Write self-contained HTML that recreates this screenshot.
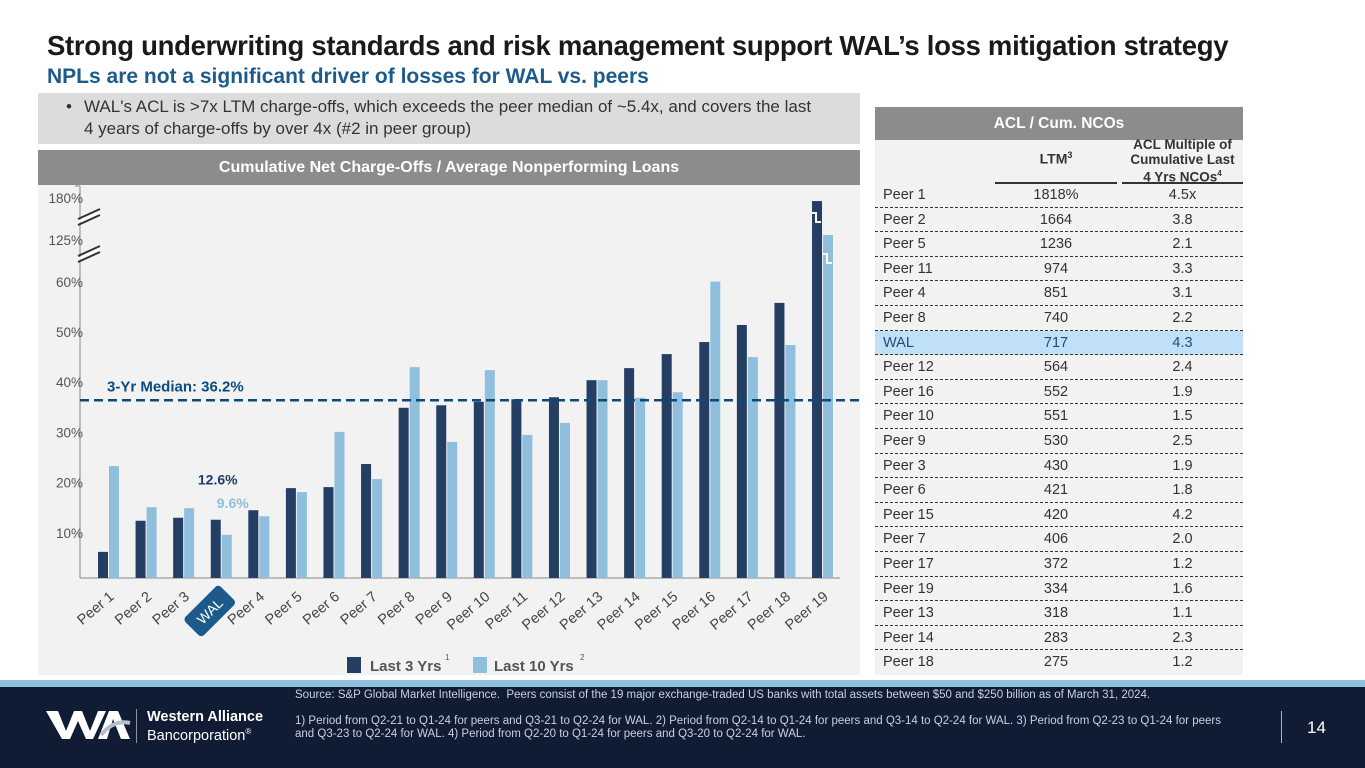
<!DOCTYPE html>
<html><head><meta charset="utf-8">
<style>
*{margin:0;padding:0;box-sizing:border-box}
body{width:1365px;height:768px;position:relative;background:#fff;font-family:"Liberation Sans",sans-serif;overflow:hidden}
.abs{position:absolute}
#title{left:47px;top:30px;font-size:27.5px;font-weight:bold;color:#1a1a1a;letter-spacing:-0.3px;white-space:nowrap}
#subtitle{left:47px;top:65px;font-size:21px;font-weight:bold;color:#1d5b8c;white-space:nowrap}
#bullet{left:38px;top:93px;width:822px;height:51px;background:#dcdcdc;font-size:17px;color:#333;padding:3px 45px 0 46px;line-height:22px}
#bullet span.dot{position:absolute;left:28px;top:3px}
#chart-header{left:38px;top:150px;width:822px;height:35px;background:#8c8c8c;color:#fff;font-size:16px;font-weight:bold;text-align:center;line-height:35px}
#chart-bg{left:38px;top:185px;width:822px;height:490px;background:#f2f2f2}
#table{left:875px;top:107px;width:368px;height:568px;background:#f2f2f2}
#thead{left:875px;top:107px;width:368px;height:33px;background:#8c8c8c;color:#fff;font-size:15.5px;font-weight:bold;text-align:center;line-height:33px}
.row{position:absolute;left:875px;width:368px;height:24.6px;font-size:14.5px;color:#333;border-bottom:1.5px dashed #333;line-height:24px}
.row .n{position:absolute;left:8px}
.row .a{position:absolute;left:995px;width:122px;text-align:center;margin-left:-875px}
.row .b{position:absolute;left:1122px;width:121px;text-align:center;margin-left:-875px}
#footer-strip{left:0;top:680px;width:1365px;height:7px;background:#8fbfdc}
#footer{left:0;top:687px;width:1365px;height:81px;background:#101c33}
.ft{color:#c9d1dc;font-size:11.5px;line-height:13px}
</style></head><body>
<div id="title" class="abs">Strong underwriting standards and risk management support WAL’s loss mitigation strategy</div>
<div id="subtitle" class="abs">NPLs are not a significant driver of losses for WAL vs. peers</div>
<div id="bullet" class="abs"><span class="dot">•</span>WAL's ACL is &gt;7x LTM charge-offs, which exceeds the peer median of ~5.4x, and covers the last 4 years of charge-offs by over 4x (#2 in peer group)</div>
<div id="chart-header" class="abs">Cumulative Net Charge-Offs / Average Nonperforming Loans</div>
<div id="chart-bg" class="abs"></div>
<svg class="abs" style="left:0;top:0" width="870" height="680" id="chart"></svg>

<div id="table" class="abs"></div>
<div id="thead" class="abs">ACL / Cum. NCOs</div>
<div class="abs" style="left:995px;top:150px;width:122px;text-align:center;font-size:14px;font-weight:bold;color:#333">LTM<sup style="font-size:9px">3</sup></div>
<div class="abs" style="left:1117px;top:138px;width:131px;text-align:center;font-size:13.5px;font-weight:bold;color:#333;line-height:14.5px">ACL Multiple of<br>Cumulative Last<br>4 Yrs NCOs<sup style="font-size:8px">4</sup></div>
<div class="abs" style="left:995px;top:182px;width:122px;height:2px;background:#333"></div>
<div class="abs" style="left:1122px;top:182px;width:121px;height:2px;background:#333"></div>
<div id="rows"></div>

<div id="footer-strip" class="abs"></div>
<div id="footer" class="abs">
  <svg class="abs" style="left:46px;top:22px" width="85" height="32">
    <polygon points="0,2 12,2 20,22 28,2 36,2 44,22 52,2 60,2 47,30 40,30 32,12 24,30 16,30" fill="#fff"/>
    <polygon points="52,30 63,2 72,2 84,30 75,30 67,10 61,30" fill="#fff"/>
    <path d="M55,26 Q68,10 84,14" stroke="#b9bec7" stroke-width="4" fill="none"/>
  </svg>
  <div class="abs" style="left:136px;top:22px;width:1px;height:34px;background:#8a93a3"></div>
  <div class="abs" style="left:147px;top:22px;color:#fff;font-size:14.5px;font-weight:bold">Western Alliance</div>
  <div class="abs" style="left:147px;top:40px;color:#fff;font-size:14.5px">Bancorporation<sup style="font-size:8px">®</sup></div>
  <div class="abs ft" style="left:295px;top:2px;width:980px">Source: S&amp;P Global Market Intelligence.&nbsp; Peers consist of the 19 major exchange-traded US banks with total assets between $50 and $250 billion as of March 31, 2024.</div>
  <div class="abs ft" style="left:295px;top:28px;width:935px">1) Period from Q2-21 to Q1-24 for peers and Q3-21 to Q2-24 for WAL. 2) Period from Q2-14 to Q1-24 for peers and Q3-14 to Q2-24 for WAL. 3) Period from Q2-23 to Q1-24 for peers and Q3-23 to Q2-24 for WAL. 4) Period from Q2-20 to Q1-24 for peers and Q3-20 to Q2-24 for WAL.</div>
  <div class="abs" style="left:1281px;top:24px;width:1px;height:32px;background:#8fbfdc"></div>
  <div class="abs" style="left:1307px;top:31px;color:#fff;font-size:17px">14</div>
</div>

<script>
const categories=["Peer 1","Peer 2","Peer 3","WAL","Peer 4","Peer 5","Peer 6","Peer 7","Peer 8","Peer 9","Peer 10","Peer 11","Peer 12","Peer 13","Peer 14","Peer 15","Peer 16","Peer 17","Peer 18","Peer 19"];
const last3=[6.2,12.4,13.0,12.6,14.5,18.9,19.1,23.7,34.9,35.4,36.1,36.6,37.0,40.4,42.8,45.6,48.0,51.4,55.8,176];
const last10=[23.3,15.1,14.9,9.6,13.3,18.1,30.1,20.7,43.0,28.1,42.4,29.5,31.9,40.4,36.9,38.0,60.6,45.0,47.4,131.5];
const tickVals=[10,20,30,40,50,60,125,180];
const tickLabels=["10%","20%","30%","40%","50%","60%","125%","180%"];
const median=36.2;
const tNames=["Peer 1","Peer 2","Peer 5","Peer 11","Peer 4","Peer 8","WAL","Peer 12","Peer 16","Peer 10","Peer 9","Peer 3","Peer 6","Peer 15","Peer 7","Peer 17","Peer 19","Peer 13","Peer 14","Peer 18"];
const tLtm=["1818%","1664","1236","974","851","740","717","564","552","551","530","430","421","420","406","372","334","318","283","275"];
const tMult=["4.5x","3.8","2.1","3.3","3.1","2.2","4.3","2.4","1.9","1.5","2.5","1.9","1.8","4.2","2.0","1.2","1.6","1.1","2.3","1.2"];

const NS="http://www.w3.org/2000/svg";
const svg=document.getElementById('chart');
function y(v){ if(v<=60) return 583-v*5.02; if(v<=125) return 282-(v-60)*42/65; return 240-(v-125)*42/55; }
function x(i){ return 98+i*37.58; }
function mk(t,a,txt){const e=document.createElementNS(NS,t);for(const k in a)e.setAttribute(k,a[k]);if(txt!==undefined)e.textContent=txt;svg.appendChild(e);return e;}
const base=578;
let ax=mk('line',{x1:80,y1:186,x2:80,y2:base,stroke:'#888','stroke-width':1});

let bx=mk('line',{x1:80,y1:base,x2:840,y2:base,stroke:'#888','stroke-width':1});

mk('line',{x1:75,y1:186,x2:80,y2:186,stroke:'#888'});
[[213,223],[250,260]].forEach(b=>{
  const g=mk('g',{});
  
  [0,6].forEach(o=>{const l=document.createElementNS(NS,'line');l.setAttribute('x1',78);l.setAttribute('y1',b[1]+o-4);l.setAttribute('x2',100);l.setAttribute('y2',b[0]+o-4);l.setAttribute('stroke','#333');l.setAttribute('stroke-width',2);g.appendChild(l);});
  const r=document.createElementNS(NS,'polygon');r.setAttribute('points',`78,${b[1]-2} 100,${b[0]-2} 100,${b[0]} 78,${b[1]}`);r.setAttribute('fill','#fff');g.appendChild(r);
});
tickVals.forEach((v,i)=>{
  const t=mk('text',{x:83,y:y(v)+5,'text-anchor':'end','font-size':13.5,fill:'#555'},tickLabels[i]);
  
});
categories.forEach((c,i)=>{
  const b1=mk('rect',{x:x(i),y:y(last3[i]),width:10,height:base-y(last3[i]),fill:'#243f63'});
  
  
  const b2=mk('rect',{x:x(i)+11,y:y(last10[i]),width:10,height:base-y(last10[i]),fill:'#8fbfdc'});
  
  
  const cx=x(i)+11, ly=598;
  if(c==="WAL"){
    const g=mk('g',{transform:`translate(${cx-12},${ly+13}) rotate(-45)`});
    
    const r=document.createElementNS(NS,'rect');r.setAttribute('x',-25);r.setAttribute('y',-13);r.setAttribute('width',50);r.setAttribute('height',26);r.setAttribute('rx',4);r.setAttribute('fill','#1c5a8c');g.appendChild(r);
    const t=document.createElementNS(NS,'text');t.setAttribute('x',0);t.setAttribute('y',5);t.setAttribute('text-anchor','middle');t.setAttribute('font-size',14);t.setAttribute('fill','#fff');t.textContent=c;g.appendChild(t);
  } else {
    const t=mk('text',{x:cx+6,y:ly,'text-anchor':'end','font-size':14.5,fill:'#444',transform:`rotate(-40 ${cx+6} ${ly})`},c);
    
  }
});
[[x(19),213],[x(19)+11,254]].forEach(p=>{
  const pl=mk('polyline',{points:`${p[0]},${p[1]} ${p[0]+4},${p[1]} ${p[0]+4},${p[1]+9} ${p[0]+9},${p[1]+9}`,stroke:'#fff','stroke-width':2,fill:'none'});
  
});
const ml=mk('line',{x1:80,y1:y(median)-1,x2:860,y2:y(median)-1,stroke:'#0d4a7c','stroke-width':2.5,'stroke-dasharray':'9,5'});

const mt=mk('text',{x:107,y:y(median)-10,'font-size':15,'font-weight':'bold',fill:'#0d4a7c'},'3-Yr Median: '+median+'%');

const w1=mk('text',{x:x(3)+7,y:y(last3[3])-35,'text-anchor':'middle','font-size':14,'font-weight':'bold',fill:'#1d3e66'},last3[3]+'%');

const w2=mk('text',{x:x(3)+22,y:y(last10[3])-27,'text-anchor':'middle','font-size':14,'font-weight':'bold',fill:'#8fbfdc'},last10[3]+'%');

const lg=mk('g',{});

mk('rect',{x:347,y:657,width:14,height:16,fill:'#243f63'});
mk('text',{x:370,y:671,'font-size':15,'font-weight':'bold',fill:'#555'},'Last 3 Yrs');
mk('text',{x:445,y:660,'font-size':8,fill:'#555'},'1');
mk('rect',{x:473,y:657,width:14,height:16,fill:'#8fbfdc'});
mk('text',{x:494,y:671,'font-size':15,'font-weight':'bold',fill:'#555'},'Last 10 Yrs');
mk('text',{x:580,y:660,'font-size':8,fill:'#555'},'2');

const rows=document.getElementById('rows');
tNames.forEach((n,i)=>{
  const d=document.createElement('div');
  d.className='row';
  
  
  d.style.top=(183+i*24.6)+'px';
  if(n==='WAL'){d.style.background='#bfe0f7';d.style.color='#1d4f7a';}
  if(i===tNames.length-1)d.style.borderBottom='none';
  d.innerHTML=`<span class="n">${n}</span><span class="a">${tLtm[i]}</span><span class="b">${tMult[i]}</span>`;
  rows.appendChild(d);
});
</script>
</body></html>
